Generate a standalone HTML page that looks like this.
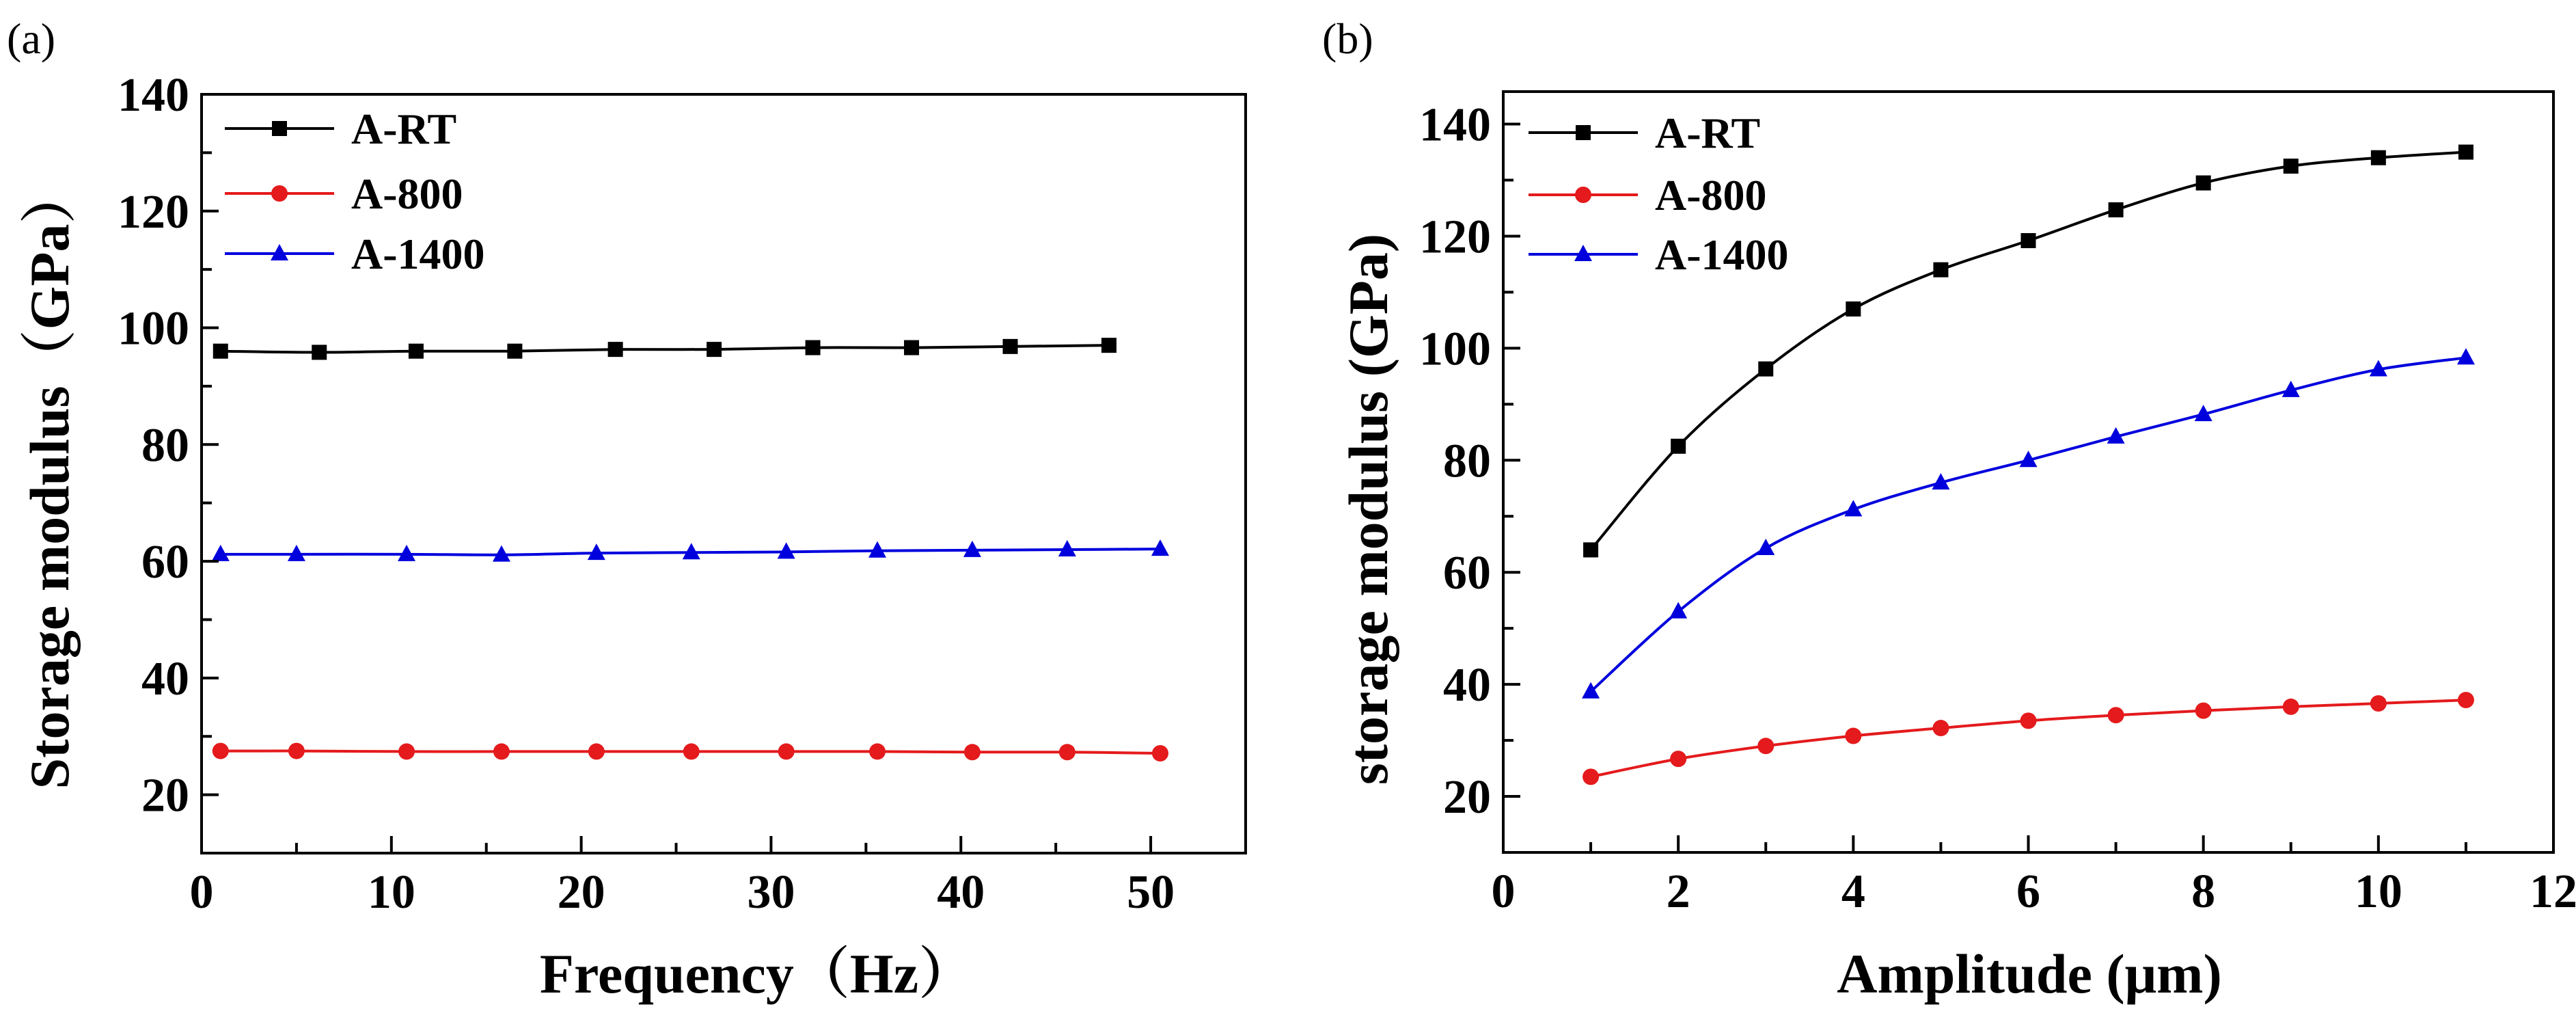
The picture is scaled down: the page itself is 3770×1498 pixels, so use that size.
<!DOCTYPE html>
<html><head><meta charset="utf-8"><style>
html,body{margin:0;padding:0;background:#fff}
svg{display:block}
text{font-family:"Liberation Serif","Noto Serif CJK SC",serif;font-weight:bold;fill:#000}
</style></head><body>
<svg id="fig" width="3770" height="1498" viewBox="0 0 3770 1498" xmlns="http://www.w3.org/2000/svg"></svg>
<script>
// Panel (a) data
const aRTx=[1,6.2,11.3,16.5,21.8,27,32.2,37.4,42.6,47.8];
const aRTy=[96,95.8,96,96,96.3,96.3,96.6,96.6,96.8,97];
const a800x=[1,5,10.8,15.8,20.8,25.8,30.8,35.6,40.6,45.6,50.5];
const a800y=[27.5,27.5,27.4,27.4,27.4,27.4,27.4,27.4,27.3,27.3,27.1];
const a1400x=[1,5,10.8,15.8,20.8,25.8,30.8,35.6,40.6,45.6,50.5];
const a1400y=[61.2,61.2,61.2,61.1,61.4,61.5,61.6,61.8,61.9,62,62.1];
const aXTicks=[0,10,20,30,40,50];
const aYTicks=[20,40,60,80,100,120,140];
// Panel (b) data
const bX=[1,2,3,4,5,6,7,8,9,10,11];
const bRTy=[64,82.5,96.3,107,114,119.2,124.7,129.5,132.5,134,135];
const b800y=[23.5,26.7,29,30.8,32.2,33.5,34.5,35.3,36,36.6,37.2];
const b1400y=[38.7,53,64.3,71.2,76,80,84.2,88.2,92.5,96.2,98.3];
const bXTicks=[0,2,4,6,8,10,12];
const bYTicks=[20,40,60,80,100,120,140];
const seriesNames=["A-RT","A-800","A-1400"];

const NS="http://www.w3.org/2000/svg";
const svg=document.getElementById('fig');
function mk(tag,attrs,parent){const e=document.createElementNS(NS,tag);for(const k in attrs)e.setAttribute(k,attrs[k]);(parent||svg).appendChild(e);return e;}
const colors={"A-RT":"#000","A-800":"#e41a1c","A-1400":"#0000dd"};
const marks={"A-RT":"square","A-800":"circle","A-1400":"tri"};

function marker(g,shape,x,y,c){
  let e;
  if(shape==="square"){e=mk('rect',{x:x-11,y:y-11,width:22,height:22,fill:c},g);}
  else if(shape==="circle"){e=mk('circle',{cx:x,cy:y,r:12,fill:c},g);}
  else {e=mk('polygon',{points:`${x},${y-14} ${x-13},${y+10} ${x+13},${y+10}`,fill:c},g);}
  
  
}
function smoothPath(pts){
  let d=`M${pts[0][0]},${pts[0][1]}`;
  for(let i=0;i<pts.length-1;i++){
    const p0=pts[Math.max(0,i-1)],p1=pts[i],p2=pts[i+1],p3=pts[Math.min(pts.length-1,i+2)];
    const c1=[p1[0]+(p2[0]-p0[0])/6,p1[1]+(p2[1]-p0[1])/6];
    const c2=[p2[0]-(p3[0]-p1[0])/6,p2[1]-(p3[1]-p1[1])/6];
    d+=` C${c1[0]},${c1[1]} ${c2[0]},${c2[1]} ${p2[0]},${p2[1]}`;
  }
  return d;
}
function panel(o){
  const g=mk('g',{});
  
  
  const sx=v=>o.L+(v-o.x0)/(o.x1-o.x0)*(o.R-o.L);
  const sy=v=>o.B-(v-o.y0)/(o.y1-o.y0)*(o.B-o.T);
  // series
  o.series.forEach(s=>{
    const pts=s.x.map((xv,i)=>[sx(xv),sy(s.y[i])]);
    const p=mk('path',{d:smoothPath(pts),fill:'none',stroke:colors[s.n],'stroke-width':4},g);
    
    
    pts.forEach(q=>marker(g,marks[s.n],q[0],q[1],colors[s.n]));
  });
  // frame
  const f=mk('rect',{x:o.L,y:o.T,width:o.R-o.L,height:o.B-o.T,fill:'none',stroke:'#000','stroke-width':4},g);
  
  
  // x ticks
  o.xt.forEach((v,i)=>{
    const x=sx(v);
    mk('line',{x1:x,x2:x,y1:o.B,y2:o.B-25,stroke:'#000','stroke-width':4},g);
    if(i<o.xt.length-1){const xm=sx((v+o.xt[i+1])/2);mk('line',{x1:xm,x2:xm,y1:o.B,y2:o.B-15,stroke:'#000','stroke-width':4},g);}
    const t=mk('text',{x:x,y:o.B+80,'font-size':70,'text-anchor':'middle'},g);
    t.textContent=v;
    
    
  });
  // y ticks
  o.yt.forEach((v,i)=>{
    const y=sy(v);
    mk('line',{x1:o.L,x2:o.L+25,y1:y,y2:y,stroke:'#000','stroke-width':4},g);
    const ym=sy(v-10);
    if(v-10>=o.y0) mk('line',{x1:o.L,x2:o.L+15,y1:ym,y2:ym,stroke:'#000','stroke-width':4},g);
    const t=mk('text',{x:o.L-18,y:y+24,'font-size':70,'text-anchor':'end'},g);
    t.textContent=v;
    
    
  });
  // legend
  o.series.forEach((s,i)=>{
    const y=o.legY[i];
    const ln=mk('line',{x1:o.legX,x2:o.legX+160,y1:y,y2:y,stroke:colors[s.n],'stroke-width':4},g);
    
    
    marker(g,marks[s.n],o.legX+80,y,colors[s.n]);
    const t=mk('text',{x:o.legX+185,y:y+22,'font-size':64},g);
    t.textContent=s.n;
    
    
  });
  const xt=mk('text',{x:o.xtX,y:1452,'font-size':82,'text-anchor':'middle'},g);
  xt.textContent=o.xTitle;
  
  
  const yt=mk('text',{x:0,y:0,'font-size':82,'text-anchor':'middle',transform:`translate(${o.ytX},${o.ytY}) rotate(-90)`},g);
  yt.textContent=o.yTitle;
  
  
  const pl=mk('text',{x:o.plX,y:78,'font-size':64,'font-weight':'normal',style:'font-weight:normal'},g);
  pl.textContent=o.pl;
  
  
}
panel({name:'panel-a',L:295,R:1823,T:138,B:1248,x0:0,x1:55,y0:10,y1:140,xt:aXTicks,yt:aYTicks,
  series:[{n:seriesNames[0],x:aRTx,y:aRTy},{n:seriesNames[1],x:a800x,y:a800y},{n:seriesNames[2],x:a1400x,y:a1400y}],
  legX:329,legY:[188,283,371],xTitle:'Frequency（Hz）',xtX:1108,yTitle:'Storage modulus（GPa）',ytX:100,ytY:700,pl:'(a)',plX:10});
panel({name:'panel-b',L:2200,R:3737,T:134,B:1247,x0:0,x1:12,y0:10,y1:145.8,xt:bXTicks,yt:bYTicks,
  series:[{n:seriesNames[0],x:bX,y:bRTy},{n:seriesNames[1],x:bX,y:b800y},{n:seriesNames[2],x:bX,y:b1400y}],
  legX:2237,legY:[194,285,372],xTitle:'Amplitude (μm)',xtX:2970,yTitle:'storage modulus (GPa)',ytX:2030,ytY:745,pl:'(b)',plX:1935});
</script>
</body></html>
